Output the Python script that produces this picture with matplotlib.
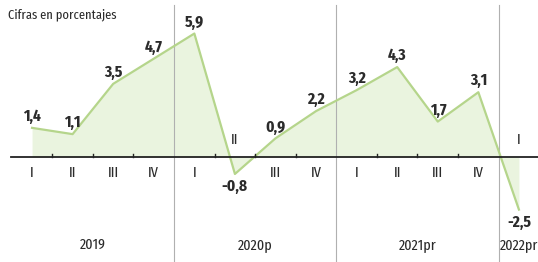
import matplotlib
matplotlib.use("Agg")
import matplotlib.pyplot as plt
from matplotlib import font_manager as fm

quarters = ["I", "II", "III", "IV", "I", "II", "III", "IV", "I", "II", "III", "IV", "I"]
values = [1.4, 1.1, 3.5, 4.7, 5.9, -0.8, 0.9, 2.2, 3.2, 4.3, 1.7, 3.1, -2.5]
years = ["2019", "2020p", "2021pr", "2022pr"]
year_centers = [1.5, 5.5, 9.5, 12.0]
separators = [3.5, 7.5, 11.5]
title = "Cifras en porcentajes"

names = {f.name for f in fm.fontManager.ttflist}
prefs = ["Fira Sans Extra Condensed", "PT Sans Narrow", "Fira Sans Condensed",
         "Barlow Condensed", "Archivo Narrow", "Liberation Sans Narrow", "DejaVu Sans"]
fam = [n for n in prefs if n in names][:1] + ["DejaVu Sans"]

plt.rcParams['font.family'] = fam
fig = plt.figure(figsize=(5.38, 2.62), dpi=100)
ax = fig.add_axes([0, 0, 1, 1])
ax.set_xlim(-0.79, 12.47)
ax.set_ylim(-5.0, 7.5)
ax.axis('off')

x = list(range(len(values)))
line_c = "#b5d58b"
fill_c = "#eaf4df"
txt_c = "#2b2b2b"

ax.fill_between(x, values, 0, color=fill_c, lw=0, zorder=1)
ax.plot(x, values, color=line_c, lw=1.6, zorder=3)

for s in separators:
    ax.axvline(s, ymin=0, ymax=0.98, color="#b0b0b0", lw=0.8, zorder=2)

ax.plot([-0.52, 12.47], [0, 0], color="#222222", lw=1.3, zorder=4)
for t in [i + 0.5 for i in range(12)]:
    if t in separators:
        continue
    ax.plot([t, t], [0, 0.17], color="#222222", lw=1.0, zorder=4)

for i, v in enumerate(values):
    lab = f"{v:.1f}".replace(".", ",")
    if v >= 0:
        ax.annotate(lab, (i, v), xytext=(0, 2.5), textcoords="offset points",
                    ha="center", va="bottom", fontsize=12, fontweight="bold", color=txt_c, zorder=5)
    else:
        ax.annotate(lab, (i, v), xytext=(0, -3.5), textcoords="offset points",
                    ha="center", va="top", fontsize=12, fontweight="bold", color=txt_c, zorder=5)

for i, q in enumerate(quarters):
    if values[i] < 0:
        ax.text(i, 0.5, q, ha="center", va="bottom", fontsize=11, color=txt_c, zorder=5)
    else:
        ax.text(i, -0.4, q, ha="center", va="top", fontsize=11, color=txt_c, zorder=5)

for yc, yl in zip(year_centers, years):
    if yc >= 12:
        ax.text(11.52, -4.2, yl, ha="left", va="center", fontsize=11, color=txt_c)
    else:
        ax.text(yc, -4.2, yl, ha="center", va="center", fontsize=11, color=txt_c)

ax.text(-0.6, 6.8, title, ha="left", va="center", fontsize=9.8, color=txt_c)

fig.savefig("out.png", dpi=100)
